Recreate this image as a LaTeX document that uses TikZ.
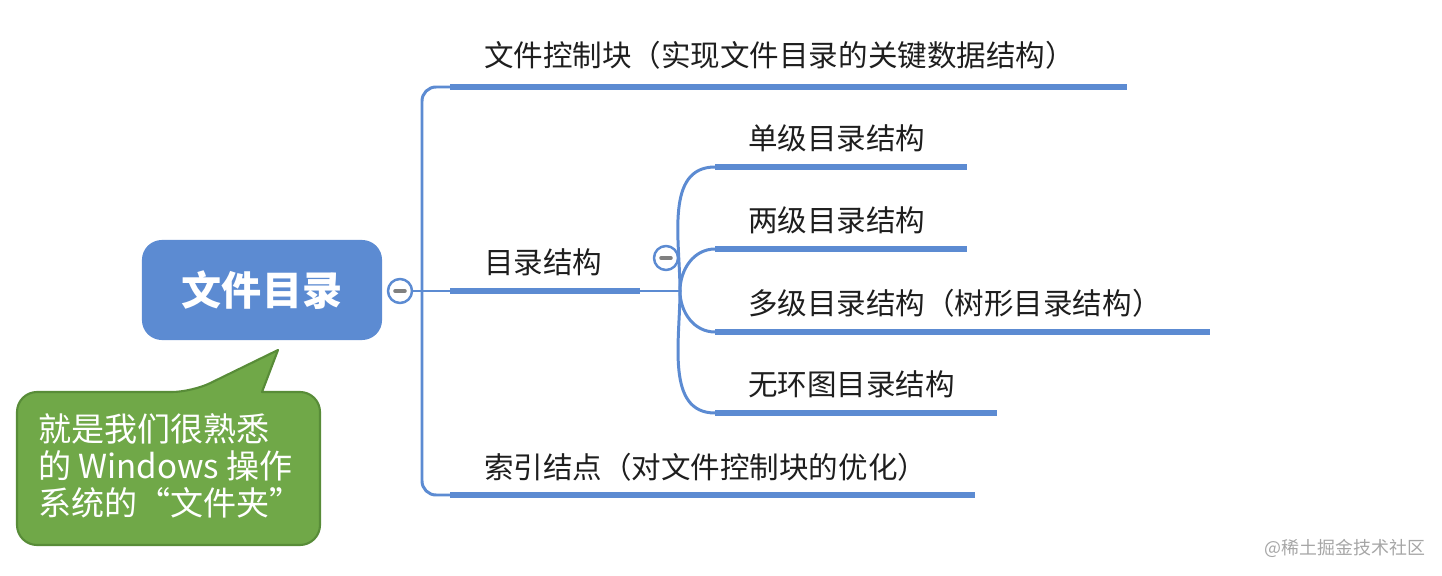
\documentclass[tikz,border=0pt]{standalone}
\usepackage{fontspec}
\setmainfont{Noto Sans CJK SC}
\usetikzlibrary{positioning}
\definecolor{mapblue}{RGB}{92,139,210}
\definecolor{calloutgreen}{RGB}{112,168,72}
\definecolor{calloutedge}{RGB}{88,140,56}
\definecolor{labelgray}{RGB}{30,30,30}

\begin{document}
\begin{tikzpicture}[x=0.01cm, y=-0.01cm, line join=round, line cap=round,
	every node/.style={inner sep=0pt, outer sep=0pt},
	rootbox/.style={fill=mapblue, rounded corners=0.2cm, minimum width=2.4cm, minimum height=1cm,
		text=white, font=\fontsize{11.4}{13}\selectfont\bfseries},
	fold/.style={circle, draw=mapblue, fill=white, line width=0.7pt, minimum size=0.24cm},
	twig/.style={draw=mapblue, line width=0.85pt},
	bar/.style={draw=mapblue, line width=1.7pt, line cap=butt},
	label/.style={anchor=west, text=labelgray, font=\fontsize{8.4}{10}\selectfont},
	callout/.style={fill=calloutgreen, draw=calloutedge, line width=0.6pt, line join=round}]
	\useasboundingbox (0,0) rectangle (1442,576);
	% 根节点
	\node[rootbox] (root) at (262,290) {文件目录};
	\node[fold] (fold1) at (400,291) {};
	\draw[gray, line width=1pt] (395,291) -- (405,291);
	% 主干
	\coordinate (spine) at (422,291);
	\coordinate (fcbL) at (450,87);   \coordinate (fcbR) at (1127,87);
	\coordinate (dirL) at (450,291);  \coordinate (dirR) at (640,291);
	\coordinate (idxL) at (450,495);  \coordinate (idxR) at (975,495);
	\draw[twig] (fold1.east) -- (spine);
	\draw[twig, rounded corners=0.14cm] (fcbL) -- (422,87) -- (422,495) -- (idxL);
	\draw[twig] (spine) -- (dirL);
	\draw[bar] (fcbL) -- (fcbR);
	\draw[bar] (dirL) -- (dirR);
	\draw[bar] (idxL) -- (idxR);
	\node[label] (fcb) at (484,55) {文件控制块（实现文件目录的关键数据结构）};
	\node[label] (dir) at (484,262) {目录结构};
	\node[label] (idx) at (484,467) {索引结点（对文件控制块的优化）};
	% 目录结构的分支
	\node[fold] (fold2) at (666,258) {};
	\draw[gray, line width=1pt] (661,258) -- (671,258);
	\coordinate (fork) at (680,291);
	\draw[twig] (dirR) -- (fork);
	\foreach \name/\y/\xe/\txt in {one/167/967/单级目录结构, two/249/967/两级目录结构,
		multi/332/1210/多级目录结构（树形目录结构）, dag/413/997/无环图目录结构}{
		\coordinate (\name L) at (715,\y);
		\coordinate (\name R) at (\xe,\y);
		\draw[twig] (fork) to[out=\ifdim\y pt<291pt 90\else 270\fi, in=180] (\name L);
		\draw[bar] (\name L) -- (\name R);
		\node[label] (\name) at (748,\y-29) {\txt};
	}
	% 提示框
	\draw[callout] (262,392) [rounded corners=0.2cm] -- (320,392) -- (320,545) -- (17,545) -- (17,392) -- (192,392)
		[sharp corners] -- (278,350) -- cycle;
	\node[anchor=north west, align=left, text=white, font=\fontsize{9.4}{10.4}\selectfont] (note) at (38,414)
		{就是我们很熟悉\\的 Windows 操作\\系统的“文件夹”};
	\node[anchor=east, text=gray!70, font=\fontsize{5.1}{6}\selectfont] (mark) at (1425,548) {@稀土掘金技术社区};
\end{tikzpicture}
\end{document}
